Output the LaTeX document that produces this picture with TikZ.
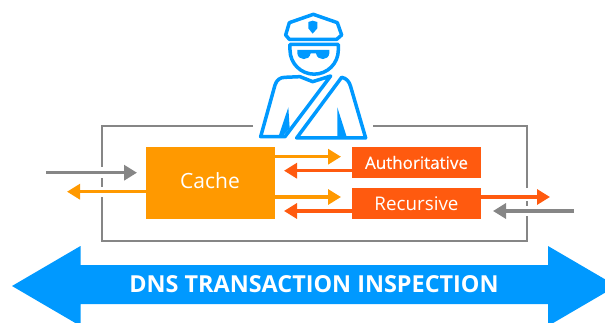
\documentclass[tikz,border=0pt]{standalone}
\usepackage{fontspec}
\setmainfont{Open Sans}
\newfontfamily\semifont[FakeBold=0.3]{Open Sans}
\usetikzlibrary{arrows.meta,calc}
\definecolor{bluec}{HTML}{0099FF}
\definecolor{orangec}{HTML}{FF9900}
\definecolor{redc}{HTML}{FF5A0F}
\definecolor{grayc}{HTML}{868686}
\tikzset{
  x=1pt,y=-1pt,
  boxn/.style={inner sep=0pt,outer sep=0pt,text=white,minimum width=129pt,anchor=north west},
  conn/.style={line width=3.2pt,-{Triangle[length=13pt,width=15pt]}},
  framel/.style={draw=grayc,line width=2pt},
  badge/.style={draw=bluec,line width=3.5pt,line join=round,line cap=round},
  badgefill/.style={fill=bluec,draw=none}
}
\begin{document}
\begin{tikzpicture}
\useasboundingbox (0,0) rectangle (605,322);
\clip (0,0) rectangle (605,322);
% frame
\draw[framel] (253,126) -- (102,126) -- (102,167);
\draw[framel] (102,178) -- (102,187);
\draw[framel] (102,197) -- (102,240.7) -- (527,240.7) -- (527,216);
\draw[framel] (527,201) -- (527,206);
\draw[framel] (527,188) -- (527,126) -- (373,126);
% boxes
\node[boxn,fill=orangec,minimum height=72pt] (cache) at (146,147) {};
\node[text=white,inner sep=0pt,font=\fontsize{21}{21}\selectfont] (cachelbl) at (210,181) {Cache};
\node[boxn,fill=redc,minimum height=31pt,font=\fontsize{17}{17}\semifont] (auth) at (352,147) {Authoritative};
\node[boxn,fill=redc,minimum height=31pt,font=\fontsize{18.8}{18.8}\selectfont] (rec) at (352,188) {Recursive};
% free ends
\coordinate (inS) at (46,172.7);
\coordinate (inE) at (137,172.7);
\coordinate (outE) at (67,191.7);
\coordinate (rOutE) at (550,197);
\coordinate (rInS) at (574,211);
\coordinate (rInE) at (493,211);
\coordinate (a1) at (341,156.7);
\coordinate (a2) at (284,170.7);
\coordinate (a3) at (341,197);
\coordinate (a4) at (284,211);
% connectors
\draw[conn,grayc] (inS) -- (inE);
\draw[conn,orangec] (cache.west |- outE) -- (outE);
\draw[conn,orangec] (cache.east |- a1) -- (a1);
\draw[conn,redc] (auth.west |- a2) -- (a2);
\draw[conn,orangec] (cache.east |- a3) -- (a3);
\draw[conn,redc] (rec.west |- a4) -- (a4);
\draw[conn,redc] (rec.east |- rOutE) -- (rOutE);
\draw[conn,grayc] (rInS) -- (rInE);
% big arrow
\fill[bluec] (12,286) -- (80.5,246) -- (80.5,265) -- (548,265) -- (548,246) -- (616.5,286) -- (548,326) -- (548,304) -- (80.5,304) -- (80.5,326) -- cycle;
\node[text=white,inner sep=0pt,font=\fontsize{23.4}{23.4}\selectfont\bfseries] (lbl) at (314,284.5) {DNS TRANSACTION INSPECTION};
% officer
\begin{scope}[shift={(240,0)},x=0.3333pt,y=-0.3333pt]
\draw[badge] (220,43) -- (292,68) -- (305,105) -- (290,118) -- (148,118) -- (137,105) -- (148,68) -- cycle;
\fill[badgefill] (205,66) -- (218,62) -- (232,66) -- (232,85) -- (218,101) -- (205,85) -- cycle;
\draw[badge] (150,133) -- (295,133) -- (295,150) arc[start angle=0,end angle=-180,x radius=72.5,y radius=-72.5] -- cycle;
\fill[badgefill] (172,150) -- (268,150) -- (268,160) .. controls (266,182) and (232,184) .. (228,160) -- (212,160) .. controls (208,184) and (174,182) .. (172,160) -- cycle;
\draw[badge] (62,410) -- (105,255) .. controls (110,240) and (120,232) .. (135,232) -- (180,230) -- (218,245) -- (272,228) -- (135,410) -- cycle;
\fill[badgefill] (145,322) -- (149,385) -- (128,408) -- (116,408) -- cycle;
\draw[badge] (305,232) .. controls (320,235) and (328,245) .. (332,260) -- (377,414) -- (170,414) -- cycle;
\fill[badgefill] (292,322) -- (320,410) -- (292,410) -- cycle;
\end{scope}
\end{tikzpicture}
\end{document}
